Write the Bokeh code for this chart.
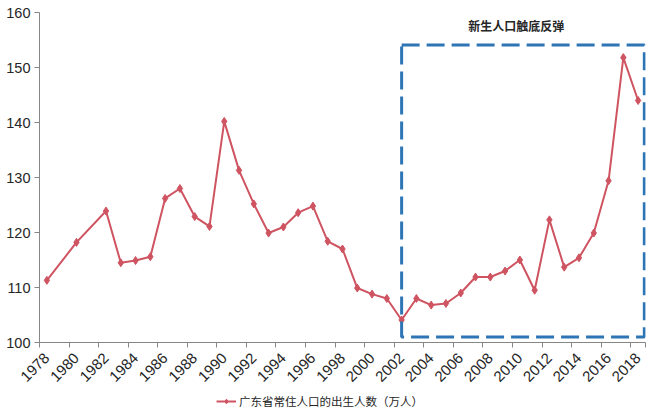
import math
from bokeh.plotting import figure
from bokeh.layouts import column
from bokeh.models import FixedTicker, BoxAnnotation, Label, Legend, LegendItem, Range1d
from bokeh.embed import file_html
from bokeh.resources import INLINE

# ---- data ----
years = [1978, 1980, 1982, 1983, 1984, 1985, 1986, 1987, 1988, 1989,
         1990, 1991, 1992, 1993, 1994, 1995, 1996, 1997, 1998, 1999,
         2000, 2001, 2002, 2003, 2004, 2005, 2006, 2007, 2008, 2009,
         2010, 2011, 2012, 2013, 2014, 2015, 2016, 2017, 2018]
births = [111.3, 118.2, 123.9, 114.5, 114.9, 115.6, 126.2, 128.0, 122.9, 121.1,
          140.2, 131.3, 125.2, 119.9, 121.0, 123.6, 124.8, 118.4, 117.0, 109.9,
          108.8, 108.0, 104.1, 108.0, 106.8, 107.1, 109.0, 111.9, 111.9, 113.0,
          115.0, 109.5, 122.3, 113.7, 115.4, 119.9, 129.4, 151.8, 144.0]
year_labels = list(range(1978, 2019, 2))
y_ticks = [100, 110, 120, 130, 140, 150, 160]
series_name = "广东省常住人口的出生人数（万人）"
annotation_text = "新生人口触底反弹"
highlight_years = (2002, 2018)
highlight_values = (101.0, 154.1)
annotation_pos = (2009.75, 157.6)

LINE_COLOR = "#CF5461"
BOX_COLOR = "#2E75B6"
AXIS_COLOR = "#868686"
TEXT_COLOR = "#262626"
NUM_FONT = "Liberation Sans"
CJK_FONT = "Noto Sans CJK SC"

p = figure(width=647, height=392, output_backend="svg", toolbar_location=None,
           x_range=Range1d(years[0] - 0.5, years[-1] + 0.5),
           y_range=Range1d(y_ticks[0], y_ticks[-1]),
           min_border_left=39, min_border_right=2, min_border_top=12,
           min_border_bottom=50)
p.outline_line_color = None
p.xgrid.visible = False
p.ygrid.visible = False

line_style = dict(line_color=LINE_COLOR, line_width=2)
pt_style = dict(marker="diamond", size=8, fill_color=LINE_COLOR, line_color=LINE_COLOR)

p.line(years, births, **line_style)
p.scatter(years, births, **pt_style)

# axes
p.yaxis.ticker = FixedTicker(ticks=y_ticks)
p.yaxis.axis_line_color = AXIS_COLOR
p.yaxis.major_tick_line_color = AXIS_COLOR
p.yaxis.major_tick_out = 5
p.yaxis.major_tick_in = 0
p.yaxis.minor_tick_line_color = None
p.yaxis.major_label_text_font = NUM_FONT
p.yaxis.major_label_text_font_size = "14.5px"
p.yaxis.major_label_text_color = TEXT_COLOR
p.yaxis.major_label_standoff = 4

p.xaxis.ticker = FixedTicker(ticks=year_labels,
                             minor_ticks=[y - 0.5 for y in year_labels] + [years[-1] + 0.5])
p.xaxis.axis_line_color = AXIS_COLOR
p.xaxis.major_tick_line_color = None
p.xaxis.minor_tick_line_color = AXIS_COLOR
p.xaxis.minor_tick_out = 5
p.xaxis.minor_tick_in = 0
p.xaxis.major_label_orientation = math.pi / 4
p.xaxis.major_label_text_font = NUM_FONT
p.xaxis.major_label_text_font_size = "15px"
p.xaxis.major_label_text_color = TEXT_COLOR
p.xaxis.major_label_standoff = 7

# highlight box
box = BoxAnnotation(left=highlight_years[0], right=highlight_years[1] + 0.42,
                    bottom=highlight_values[0], top=highlight_values[1],
                    fill_color=None, fill_alpha=0, line_color=BOX_COLOR,
                    line_alpha=1.0, line_width=3, line_dash="18 7")
p.add_layout(box)

label = Label(x=annotation_pos[0], y=annotation_pos[1], text=annotation_text,
              text_align="center", text_baseline="middle", text_font=CJK_FONT,
              text_font_size="12px", text_font_style="bold", text_color=TEXT_COLOR)
p.add_layout(label)

# legend strip below the chart (series drawn out of view so only the legend shows)
pl = figure(width=647, height=21, output_backend="svg", toolbar_location=None,
            x_axis_type=None, y_axis_type=None,
            x_range=Range1d(0, 1), y_range=Range1d(0, 1),
            min_border_left=0, min_border_right=0, min_border_top=0, min_border_bottom=0)
pl.outline_line_color = None
pl.xgrid.visible = False
pl.ygrid.visible = False
leg_line = pl.line(years, births, **line_style)
leg_pts = pl.scatter(years, births, **pt_style)
legend = Legend(items=[LegendItem(label=series_name, renderers=[leg_line, leg_pts])],
                location=(177, 4), orientation="horizontal",
                background_fill_alpha=0, border_line_color=None,
                padding=0, margin=0, glyph_width=20, glyph_height=12,
                label_height=12, label_standoff=3,
                label_text_font=CJK_FONT, label_text_font_size="11.5px",
                label_text_color=TEXT_COLOR)
pl.add_layout(legend)

open("out.html", "w").write(file_html(column(p, pl, spacing=0), INLINE))
